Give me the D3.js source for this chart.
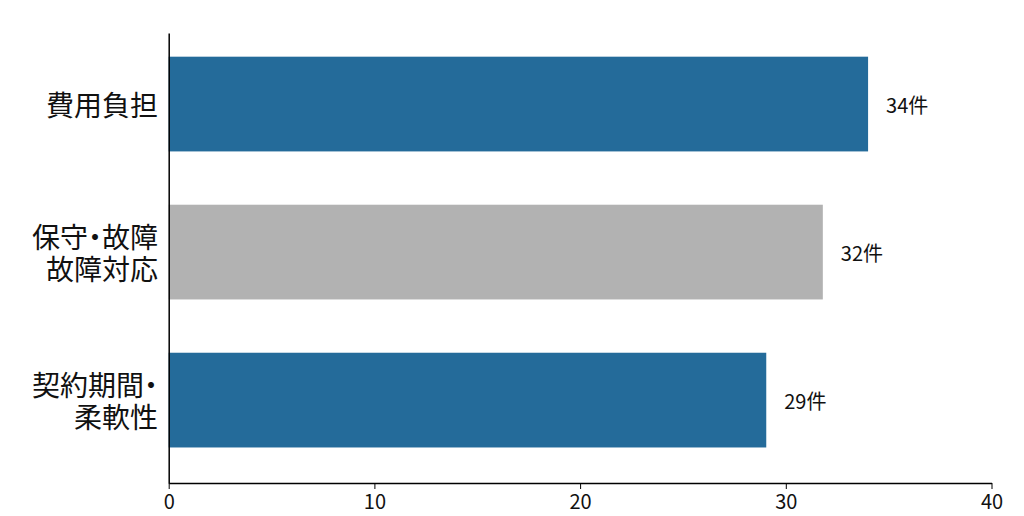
<!DOCTYPE html>
<html>
<head>
<meta charset="utf-8">
<script src="https://cdn.jsdelivr.net/npm/d3@7"></script>
<style>
  html, body { margin: 0; padding: 0; background: #ffffff; }
  svg { display: block; font-family: "Noto Sans CJK JP", "Noto Sans", sans-serif; }
</style>
</head>
<body>
<svg id="chart" width="1024" height="516"></svg>
<script>
// ---- data ----
const categories = ["費用負担", "保守・故障対応", "契約期間・柔軟性"];
const categoryLines = [["費用負担"], ["保守・故障", "故障対応"], ["契約期間・", "柔軟性"]];
const values = [34, 31.8, 29.05];
const valueLabels = ["34件", "32件", "29件"];
const barColors = ["#246b9a", "#b2b2b2", "#246b9a"];
const xTicks = [0, 10, 20, 30, 40];

// ---- layout ----
const svg = d3.select("#chart");
const x = d3.scaleLinear().domain([0, 40]).range([168.7, 991.5]);
const y = d3.scaleBand().domain(categories).range([33, 483])
  .paddingInner(0.36).paddingOuter(0.2).align(0.4);

// bars
svg.append("g").selectAll("rect")
  .data(categories)
  .join("rect")
  .attr("x", x(0))
  .attr("y", d => y(d))
  .attr("width", (d, i) => x(values[i]) - x(0))
  .attr("height", y.bandwidth())
  .attr("fill", (d, i) => barColors[i]);

// value labels
svg.append("g").selectAll("text")
  .data(categories)
  .join("text")
  .attr("x", (d, i) => x(values[i]) + 18)
  .attr("y", d => y(d) + y.bandwidth() / 2)
  .attr("dominant-baseline", "central")
  .attr("font-size", 20)
  .attr("fill", "#111")
  .text((d, i) => valueLabels[i]);

// category labels
const lineH = 32;
const lab = svg.append("g").selectAll("text")
  .data(categories)
  .join("text")
  .attr("text-anchor", "end")
  .attr("font-size", 28)
  .attr("fill", "#111")
  .style("font-feature-settings", '"palt"');
lab.each(function(d, i) {
  const lines = categoryLines[i];
  const cy = y(d) + y.bandwidth() / 2;
  const t = d3.select(this);
  lines.forEach((ln, k) => {
    t.append("tspan")
      .attr("x", 158)
      .attr("y", cy + (k - (lines.length - 1) / 2) * lineH)
      .attr("dominant-baseline", "central")
      .text(ln);
  });
});

// y axis line
svg.append("g")
  .attr("transform", `translate(${x(0)},0)`)
  .call(d3.axisLeft(y).tickSize(0).tickFormat(""))
  .call(g => g.select(".domain").attr("stroke", "#000").attr("stroke-width", 1.5));

// x axis
svg.append("g")
  .attr("transform", "translate(0,483)")
  .call(d3.axisBottom(x).tickValues(xTicks).tickSize(6).tickSizeOuter(0).tickPadding(6))
  .call(g => g.select(".domain").attr("stroke", "#000").attr("stroke-width", 1.5))
  .call(g => g.selectAll(".tick line").attr("stroke", "#000"))
  .call(g => g.selectAll(".tick text")
    .attr("font-size", 20)
    .attr("fill", "#111")
    .attr("font-family", "\"Noto Sans CJK JP\", sans-serif"));
</script>
</body>
</html>
